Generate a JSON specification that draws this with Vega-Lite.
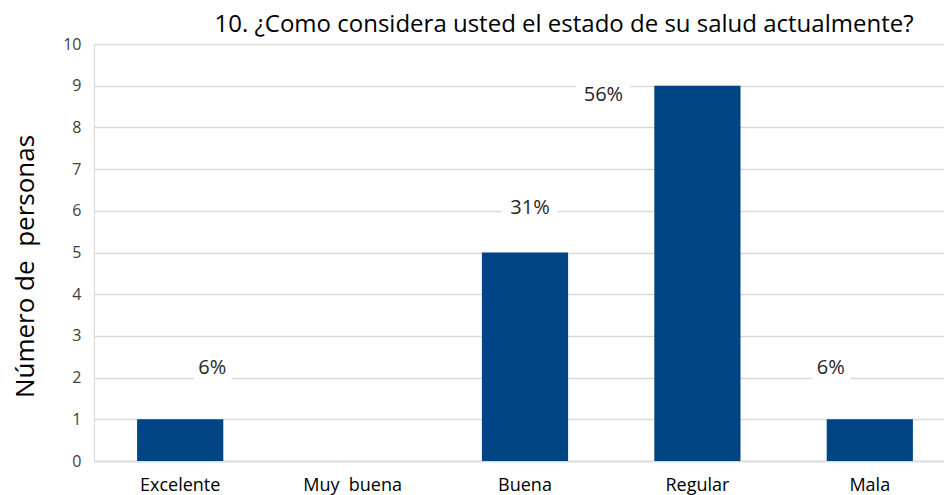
{
  "$schema": "https://vega.github.io/schema/vega-lite/v6.json",
  "autosize": {"type": "none"},
  "padding": {"left": 94, "top": 44, "right": 0, "bottom": 34},
  "width": 862,
  "height": 417,
  "background": "white",
  "config": {"view": {"stroke": null}, "font": "Open Sans"},
  "title": {
    "text": "10. ¿Como considera usted el estado de su salud actualmente?",
    "anchor": "middle",
    "dx": 39,
    "dy": 3,
    "offset": 2,
    "fontSize": 24,
    "font": "Open Sans",
    "fontWeight": "normal",
    "color": "#000000"
  },
  "data": {
    "values": [
      {"estado": "Excelente", "personas": 1, "porcentaje": "6%"},
      {"estado": "Muy\u00a0 buena", "personas": 0, "porcentaje": ""},
      {"estado": "Buena", "personas": 5, "porcentaje": "31%"},
      {"estado": "Regular", "personas": 9, "porcentaje": "56%"},
      {"estado": "Mala", "personas": 1, "porcentaje": "6%"}
    ]
  },
  "encoding": {
    "x": {
      "field": "estado",
      "type": "nominal",
      "sort": null,
      "scale": {"paddingInner": 0.5, "paddingOuter": 0.25},
      "axis": {
        "title": null,
        "labelAngle": 0,
        "ticks": false,
        "domain": true,
        "domainColor": "#d9d9d9",
        "domainWidth": 1.5,
        "labelPadding": 15,
        "labelFontSize": 18,
        "labelColor": "#000000",
        "labelFont": "Open Sans"
      }
    },
    "y": {
      "field": "personas",
      "type": "quantitative",
      "scale": {"domain": [0, 10], "nice": false},
      "axis": {
        "title": "Número de\u00a0 personas",
        "titleFontSize": 26,
        "titleFont": "Open Sans",
        "titleFontWeight": "normal",
        "titleColor": "#000000",
        "titlePadding": 24,
        "titleY": 222,
        "values": [0, 1, 2, 3, 4, 5, 6, 7, 8, 9, 10],
        "labelOverlap": false,
        "ticks": false,
        "labelPadding": 13,
        "labelFontSize": 16,
        "labelColor": "#404040",
        "labelFont": "Open Sans",
        "domain": true,
        "domainColor": "#d9d9d9",
        "gridColor": "#d9d9d9",
        "gridWidth": 1.5
      }
    }
  },
  "layer": [
    {"mark": {"type": "bar", "color": "#004483"}},
    {
      "transform": [{"filter": "datum.estado == 'Excelente'"}],
      "layer": [
        {"mark": {"type": "text", "dx": 32, "dy": -51, "fontSize": 20, "font": "Open Sans", "stroke": "white", "strokeWidth": 18, "fill": "white"}, "encoding": {"text": {"field": "porcentaje"}}},
        {"mark": {"type": "text", "dx": 32, "dy": -51, "fontSize": 20, "font": "Open Sans", "fill": "#262626"}, "encoding": {"text": {"field": "porcentaje"}}}
      ]
    },
    {
      "transform": [{"filter": "datum.estado == 'Mala'"}],
      "layer": [
        {"mark": {"type": "text", "dx": -39, "dy": -51, "fontSize": 20, "font": "Open Sans", "stroke": "white", "strokeWidth": 18, "fill": "white"}, "encoding": {"text": {"field": "porcentaje"}}},
        {"mark": {"type": "text", "dx": -39, "dy": -51, "fontSize": 20, "font": "Open Sans", "fill": "#262626"}, "encoding": {"text": {"field": "porcentaje"}}}
      ]
    },
    {
      "transform": [{"filter": "datum.estado == 'Buena'"}],
      "layer": [
        {"mark": {"type": "text", "dx": 5, "dy": -45, "fontSize": 20, "font": "Open Sans", "stroke": "white", "strokeWidth": 18, "fill": "white"}, "encoding": {"text": {"field": "porcentaje"}}},
        {"mark": {"type": "text", "dx": 5, "dy": -45, "fontSize": 20, "font": "Open Sans", "fill": "#262626"}, "encoding": {"text": {"field": "porcentaje"}}}
      ]
    },
    {
      "transform": [{"filter": "datum.estado == 'Regular'"}],
      "layer": [
        {"mark": {"type": "text", "dx": -94, "dy": 9, "fontSize": 20, "font": "Open Sans", "stroke": "white", "strokeWidth": 18, "fill": "white"}, "encoding": {"text": {"field": "porcentaje"}}},
        {"mark": {"type": "text", "dx": -94, "dy": 9, "fontSize": 20, "font": "Open Sans", "fill": "#262626"}, "encoding": {"text": {"field": "porcentaje"}}}
      ]
    }
  ]
}
